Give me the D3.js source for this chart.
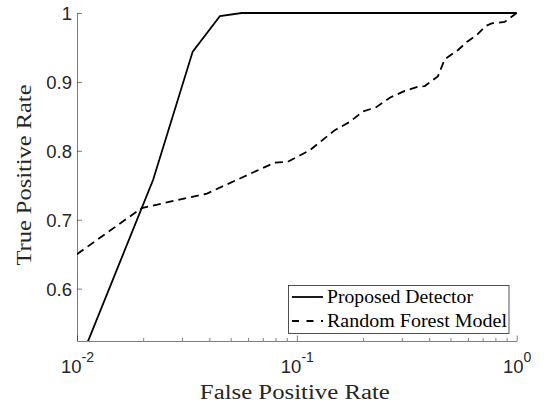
<!DOCTYPE html>
<html>
<head>
<meta charset="utf-8">
<script src="https://cdn.jsdelivr.net/npm/d3@7"></script>
<style>
  body { margin: 0; background: #fff; }
  svg { display: block; }
  .tick text { fill: #262626; }
</style>
</head>
<body>
<svg id="chart" width="546" height="404"></svg>
<script>
// ROC curves
const fprDetector = [0.01, 0.0222, 0.0336, 0.0447, 0.0561, 1];
const tprDetector = [0.484, 0.758, 0.944, 0.9956, 1, 1];

const fprForest = [0.01, 0.0197, 0.039, 0.0794, 0.091, 0.1146, 0.1489, 0.1742, 0.1995, 0.2286,
  0.2647, 0.3097, 0.3548, 0.3819, 0.4377, 0.4708, 0.5395, 0.5929, 0.6579, 0.7228, 0.7693, 0.881, 1];
const tprForest = [0.65, 0.717, 0.738, 0.783, 0.784, 0.801, 0.83, 0.842, 0.857, 0.863,
  0.877, 0.887, 0.893, 0.894, 0.908, 0.933, 0.946, 0.958, 0.968, 0.981, 0.985, 0.987, 1];

const yTicks = [0.6, 0.7, 0.8, 0.9, 1];
const xTicks = [0.01, 0.1, 1];
const xTickExp = ["-2", "-1", "0"];
const seriesNames = ["Proposed Detector", "Random Forest Model"];

const svg = d3.select("#chart");
const plotLeft = 77, plotRight = 516.7, plotTop = 13, plotBottom = 341;

const x = d3.scaleLog().domain([0.01, 1]).range([plotLeft, plotRight]);
const y = d3.scaleLinear().domain([0.524, 1]).range([plotBottom, plotTop]);

const axisColor = "#262626";
const tickFont = "'Liberation Sans', Arial, Helvetica, sans-serif";
const labelFont = "'Liberation Serif', 'Times New Roman', serif";

svg.append("defs").append("clipPath").attr("id", "plot-clip")
  .append("rect").attr("x", plotLeft).attr("y", plotTop - 2)
  .attr("width", plotRight - plotLeft + 2).attr("height", plotBottom - plotTop + 2);

// minor x ticks
const minorTicks = [];
[0.01, 0.1].forEach(base => { for (let k = 2; k <= 9; k++) minorTicks.push(base * k); });
svg.append("g")
  .attr("transform", `translate(0,${plotBottom})`)
  .call(d3.axisBottom(x).tickValues(minorTicks).tickSize(-3).tickSizeOuter(0).tickFormat(""))
  .call(g => g.select(".domain").remove())
  .call(g => g.selectAll("line").attr("stroke", axisColor).attr("stroke-width", 0.6));

// major x axis
const xAxis = svg.append("g")
  .attr("transform", `translate(0,${plotBottom})`)
  .call(d3.axisBottom(x).tickValues(xTicks).tickSize(-5.5).tickSizeOuter(0).tickFormat(""));
xAxis.select(".domain").attr("stroke", axisColor).attr("stroke-width", 0.6);
xAxis.selectAll("line").attr("stroke", axisColor).attr("stroke-width", 0.6);
xAxis.selectAll(".tick").each(function(d, i) {
  const t = d3.select(this).select("text")
    .attr("y", 32).attr("dy", null)
    .attr("font-family", tickFont).attr("font-size", 18.5)
    .attr("text-anchor", "middle");
  t.append("tspan").text("10");
  t.append("tspan").attr("dy", -11).attr("font-size", 14).text(xTickExp[i]);
});

// y axis
const yAxis = svg.append("g")
  .attr("transform", `translate(${plotLeft},0)`)
  .call(d3.axisLeft(y).tickValues(yTicks).tickSize(-5).tickSizeOuter(0).tickPadding(5)
    .tickFormat(d => d === 1 ? "1" : d3.format(".1f")(d)));
yAxis.select(".domain").attr("stroke", axisColor).attr("stroke-width", 0.6);
yAxis.selectAll("line").attr("stroke", axisColor).attr("stroke-width", 0.6);
yAxis.selectAll("text")
  .attr("font-family", tickFont).attr("font-size", 18.5).attr("dy", "0.36em");

// curves
const line = d3.line().x(d => x(d[0])).y(d => y(d[1]));
const plot = svg.append("g").attr("clip-path", "url(#plot-clip)");

plot.append("path")
  .datum(d3.zip(fprDetector, tprDetector))
  .attr("d", line).attr("fill", "none")
  .attr("stroke", "#000").attr("stroke-width", 1.8);

plot.append("path")
  .datum(d3.zip(fprForest, tprForest))
  .attr("d", line).attr("fill", "none")
  .attr("stroke", "#000").attr("stroke-width", 1.8)
  .attr("stroke-dasharray", "8,5");

// axis titles
svg.append("text")
  .attr("x", (plotLeft + plotRight) / 2 - 2).attr("y", 399)
  .attr("text-anchor", "middle")
  .attr("font-family", labelFont).attr("font-size", 20)
  .attr("textLength", 190).attr("lengthAdjust", "spacingAndGlyphs")
  .attr("fill", "#262626")
  .text("False Positive Rate");

svg.append("text")
  .attr("transform", `translate(31,${(plotTop + plotBottom) / 2 - 2}) rotate(-90)`)
  .attr("text-anchor", "middle")
  .attr("font-family", labelFont).attr("font-size", 20)
  .attr("textLength", 181).attr("lengthAdjust", "spacingAndGlyphs")
  .attr("fill", "#262626")
  .text("True Positive Rate");

// legend
const legend = svg.append("g").attr("transform", "translate(288.5,285.5)");
legend.append("rect")
  .attr("width", 220.5).attr("height", 48)
  .attr("fill", "#fff").attr("stroke", axisColor).attr("stroke-width", 0.8);

const legendWidths = [146, 180];
seriesNames.forEach((name, i) => {
  const cy = 11.5 + i * 24;
  legend.append("line")
    .attr("x1", 3.5).attr("x2", 34.5).attr("y1", cy).attr("y2", cy)
    .attr("stroke", "#000").attr("stroke-width", 1.8)
    .attr("stroke-dasharray", i === 1 ? "7,7.5" : null);
  legend.append("text")
    .attr("x", 38.5).attr("y", cy + 5.5)
    .attr("font-family", labelFont).attr("font-size", 19)
    .attr("textLength", legendWidths[i]).attr("lengthAdjust", "spacingAndGlyphs")
    .attr("fill", "#000")
    .text(name);
});
</script>
</body>
</html>
